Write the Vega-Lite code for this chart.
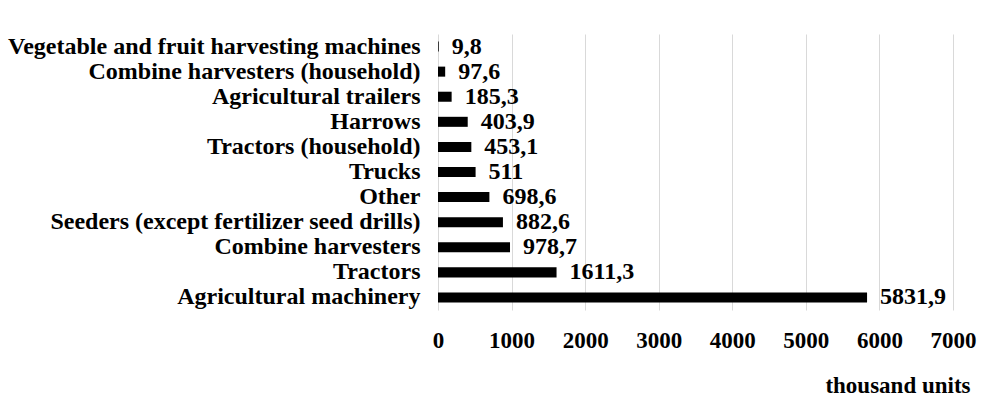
{
  "$schema": "https://vega.github.io/schema/vega-lite/v6.json",
  "width": 515,
  "height": 276,
  "autosize": {"type": "none"},
  "padding": {"left": 438, "top": 34, "right": 43, "bottom": 96},
  "background": "white",
  "config": {
    "view": {"stroke": null},
    "font": "Times New Roman, Liberation Serif, serif",
    "axis": {"labelFont": "Times New Roman, Liberation Serif, serif", "titleFont": "Times New Roman, Liberation Serif, serif", "labelColor": "black", "titleColor": "black"}
  },
  "data": {
    "values": [
      {"category": "Vegetable and fruit harvesting machines", "value": 9.8, "label": "9,8"},
      {"category": "Combine harvesters (household)", "value": 97.6, "label": "97,6"},
      {"category": "Agricultural trailers", "value": 185.3, "label": "185,3"},
      {"category": "Harrows", "value": 403.9, "label": "403,9"},
      {"category": "Tractors (household)", "value": 453.1, "label": "453,1"},
      {"category": "Trucks", "value": 511, "label": "511"},
      {"category": "Other", "value": 698.6, "label": "698,6"},
      {"category": "Seeders (except fertilizer seed drills)", "value": 882.6, "label": "882,6"},
      {"category": "Combine harvesters", "value": 978.7, "label": "978,7"},
      {"category": "Tractors", "value": 1611.3, "label": "1611,3"},
      {"category": "Agricultural machinery", "value": 5831.9, "label": "5831,9"}
    ]
  },
  "encoding": {
    "y": {
      "field": "category",
      "type": "nominal",
      "sort": null,
      "scale": {"paddingInner": 0.6, "paddingOuter": 0.3},
      "axis": {
        "title": null,
        "domain": false,
        "ticks": false,
        "labelFontSize": 24,
        "labelFontWeight": "bold",
        "labelPadding": 18,
        "labelLimit": 600
      }
    },
    "x": {
      "field": "value",
      "type": "quantitative",
      "scale": {"domain": [0, 7000], "nice": false},
      "axis": {
        "values": [0, 1000, 2000, 3000, 4000, 5000, 6000, 7000],
        "format": "d",
        "title": "thousand units",
        "domain": false,
        "ticks": false,
        "grid": true,
        "gridColor": "#d9d9d9",
        "gridWidth": 1,
        "labelFlush": false,
        "labelOverlap": false,
        "labelFontSize": 23,
        "labelFontWeight": "bold",
        "labelPadding": 19,
        "titleFontSize": 23,
        "titleFontWeight": "bold",
        "titleAlign": "right",
        "titleAnchor": null,
        "titleX": 532,
        "titleY": 82,
        "titleBaseline": "alphabetic"
      }
    }
  },
  "layer": [
    {"mark": {"type": "bar", "color": "black"}},
    {
      "mark": {"type": "text", "align": "left", "baseline": "middle", "dx": 13, "fontSize": 24, "fontWeight": "bold", "font": "Times New Roman, Liberation Serif, serif", "color": "black"},
      "encoding": {"text": {"field": "label"}}
    }
  ]
}
